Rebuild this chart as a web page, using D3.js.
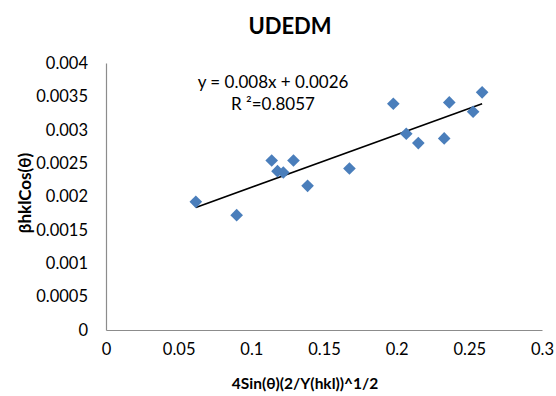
<!DOCTYPE html>
<html>
<head>
<meta charset="utf-8">
<script src="https://cdn.jsdelivr.net/npm/d3@7"></script>
<style>
  body { margin: 0; background: #fff; }
  text { font-family: Lato, "Open Sans", sans-serif; fill: #000; }
</style>
</head>
<body>
<div id="chart-area"></div>
<script>
// SVG Size
var width = 556,
	height = 396;

// data
var xValues = [0.0618, 0.0899, 0.114, 0.118, 0.122, 0.129, 0.1387, 0.1675, 0.1977, 0.2066, 0.2149, 0.2327, 0.2362, 0.2526, 0.2588];
var yValues = [0.00192, 0.00172, 0.00254, 0.00238, 0.00236, 0.00254, 0.00216, 0.00242, 0.00339, 0.00294, 0.00280, 0.00287, 0.00341, 0.00327, 0.00356];
var xTicks = [0, 0.05, 0.1, 0.15, 0.2, 0.25, 0.3];
var yTicks = [0, 0.0005, 0.001, 0.0015, 0.002, 0.0025, 0.003, 0.0035, 0.004];
var equationText = "y = 0.008x + 0.0026";
var r2Text = "R \u00b2=0.8057";

var data = xValues.map(function(x, i) { return { x: x, y: yValues[i] }; });

var svg = d3.select('#chart-area')
	.append("svg")
	.attr("width", width)
	.attr("height", height);

var xScale = d3.scaleLinear()
	.domain([0, 0.3])
	.range([106, 542]);

var yScale = d3.scaleLinear()
	.domain([0, 0.004])
	.range([330, 63]);

// axes, no tick marks
var xAxis = d3.axisBottom(xScale)
	.tickValues(xTicks)
	.tickSize(0)
	.tickPadding(13)
	.tickFormat(function(d) { return String(d); });

var yAxis = d3.axisLeft(yScale)
	.tickValues(yTicks)
	.tickSize(0)
	.tickPadding(18)
	.tickFormat(function(d) { return String(+d.toFixed(4)); });

var gx = svg.append("g")
	.attr("class", "axis x-axis")
	.attr("transform", "translate(0," + yScale(0) + ")")
	.call(xAxis);

var gy = svg.append("g")
	.attr("class", "axis y-axis")
	.attr("transform", "translate(" + xScale(0) + ",0)")
	.call(yAxis);

svg.selectAll(".axis .domain").attr("stroke", "#8c8c8c").attr("stroke-width", 1.2);
svg.selectAll(".axis text")
	.style("font-family", "Lato, sans-serif")
	.style("font-size", "16.5px")
	.attr("fill", "#000");

// least squares trend line
var xMean = d3.mean(xValues), yMean = d3.mean(yValues);
var sxy = d3.sum(data, function(d) { return (d.x - xMean) * (d.y - yMean); });
var sxx = d3.sum(data, function(d) { return (d.x - xMean) * (d.x - xMean); });
var slope = sxy / sxx, intercept = yMean - slope * xMean;
var xExt = d3.extent(xValues);

svg.append("line")
	.attr("x1", xScale(xExt[0]))
	.attr("y1", yScale(slope * xExt[0] + intercept))
	.attr("x2", xScale(xExt[1]))
	.attr("y2", yScale(slope * xExt[1] + intercept))
	.attr("stroke", "#000")
	.attr("stroke-width", 1.6);

// diamond markers
var diamond = d3.symbol().type(d3.symbolSquare).size(80);
svg.selectAll(".pt")
	.data(data)
	.enter()
	.append("path")
	.attr("class", "pt")
	.attr("d", diamond)
	.attr("transform", function(d) { return "translate(" + xScale(d.x) + "," + yScale(d.y) + ") rotate(45)"; })
	.attr("fill", "#4a7ebb");

// equation
svg.append("text")
	.attr("x", 273)
	.attr("y", 88)
	.attr("text-anchor", "middle")
	.style("font-size", "17px")
	.text(equationText);

svg.append("text")
	.attr("x", 273)
	.attr("y", 110)
	.attr("text-anchor", "middle")
	.style("font-size", "17px")
	.text(r2Text);

// title
svg.append("text")
	.attr("x", 290)
	.attr("y", 34)
	.attr("text-anchor", "middle")
	.style("font-size", "22px")
	.style("font-weight", "bold")
	.text("UDEDM");

//x label
svg.append("text")
	.attr("x", 305)
	.attr("y", 389)
	.attr("text-anchor", "middle")
	.style("font-size", "15.5px")
	.style("font-weight", "bold")
	.text("4Sin(\u03b8)(2/Y(hkl))^1/2");

//y label
svg.append("text")
	.attr("transform", "translate(31,193) rotate(-90)")
	.attr("text-anchor", "middle")
	.style("font-size", "17px")
	.style("font-weight", "bold")
	.text("\u03b2hklCos(\u03b8)");
</script>
</body>
</html>
